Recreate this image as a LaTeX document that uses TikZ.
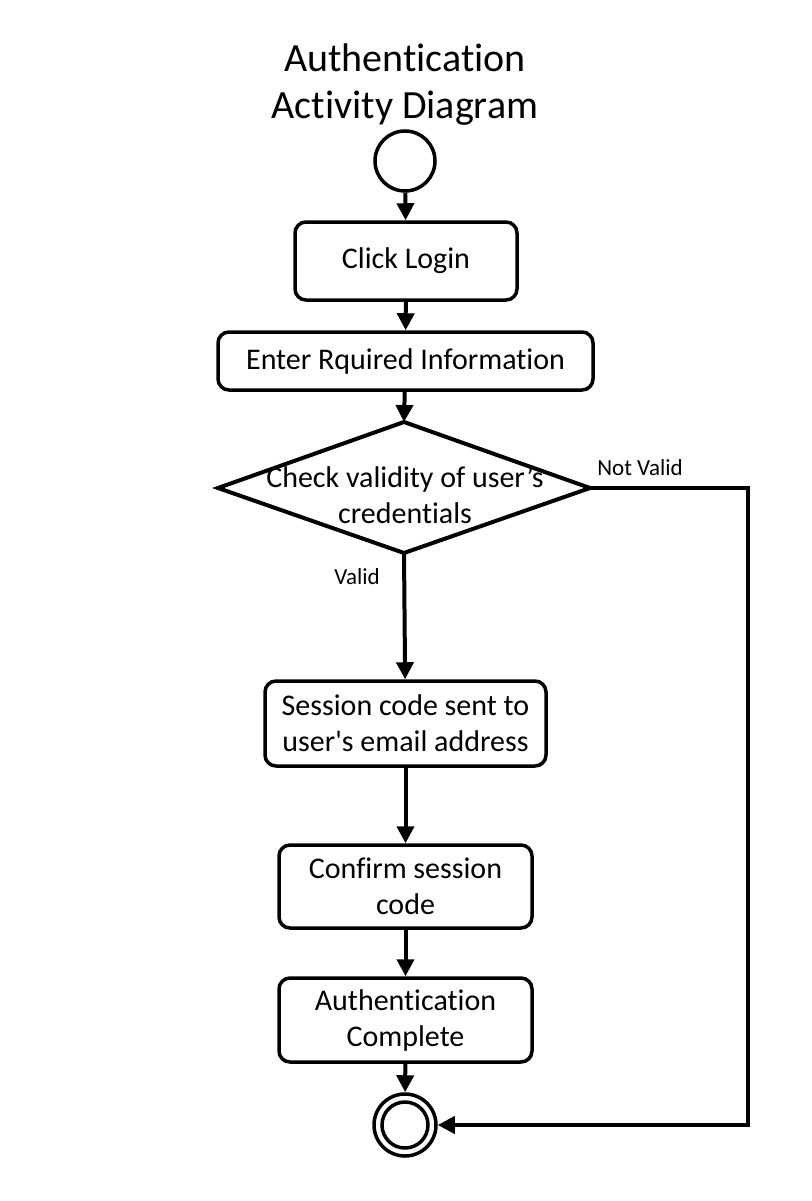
\documentclass[tikz,border=0pt]{standalone}
\usepackage{fontspec}
\setmainfont{Carlito}[Ligatures={NoCommon}]
\usetikzlibrary{arrows.meta}
\begin{document}
\begin{tikzpicture}[x=1pt,y=-1pt,
  act/.style={draw,line width=3.5pt,rounded corners=11pt,align=center,font=\fontsize{30}{36}\selectfont,inner sep=0pt},
  conn/.style={line width=4pt,-{Triangle[length=17pt,width=17pt]}},
  lbl/.style={font=\fontsize{23}{26}\selectfont},
  ttl/.style={font=\fontsize{40}{47}\selectfont,align=center}]
\useasboundingbox (0,0) rectangle (811,1201);
\node[ttl] (title) at (405,85) {Authentication\\Activity Diagram};
\node[draw,circle,line width=3.5pt,minimum size=60pt,inner sep=0pt] (start) at (405,161) {};
\node[act,minimum width=222pt,minimum height=78pt] (login) at (406,261) {Click Login};
\node[act,minimum width=375pt,minimum height=58pt] (enter) at (405.5,361) {Enter Rquired Information};
\coordinate (dtop) at (404,422);
\coordinate (dleft) at (218,488);
\coordinate (dright) at (590,488);
\coordinate (dbot) at (404,553);
\draw[line width=4pt,line join=miter] (dtop) -- (dright) -- (dbot) -- (dleft) -- cycle;
\node[align=center,font=\fontsize{30}{36}\selectfont] (check) at (405,495) {Check validity of user’s\\credentials};
\node[act,minimum width=281pt,minimum height=85pt] (session) at (405.5,723.5) {Session code sent to\\user\textquotesingle s email address};
\node[act,minimum width=253pt,minimum height=83pt] (confirm) at (405.5,886.5) {Confirm session\\code};
\node[act,minimum width=253pt,minimum height=84pt] (auth) at (405.5,1020) {Authentication\\Complete};
\node[draw,circle,line width=3.5pt,minimum size=62pt,inner sep=0pt] (end) at (405,1125) {};
\draw[line width=3.5pt] (end.center) circle (23pt);
\coordinate (c1) at (748,488);
\coordinate (c2) at (748,1125);
\draw[conn] (start) -- (login);
\draw[conn] (login) -- (enter);
\draw[conn] (enter) -- (dtop);
\draw[conn] (dbot) -- (session);
\draw[conn] (session) -- (confirm);
\draw[conn] (confirm) -- (auth);
\draw[conn] (auth) -- (end);
\draw[conn,line join=miter] (dright) -- (c1) -- (c2) -- (end);
\node[lbl] (nv) at (640,468) {Not Valid};
\node[lbl] (v) at (357,577) {Valid};
\end{tikzpicture}
\end{document}
